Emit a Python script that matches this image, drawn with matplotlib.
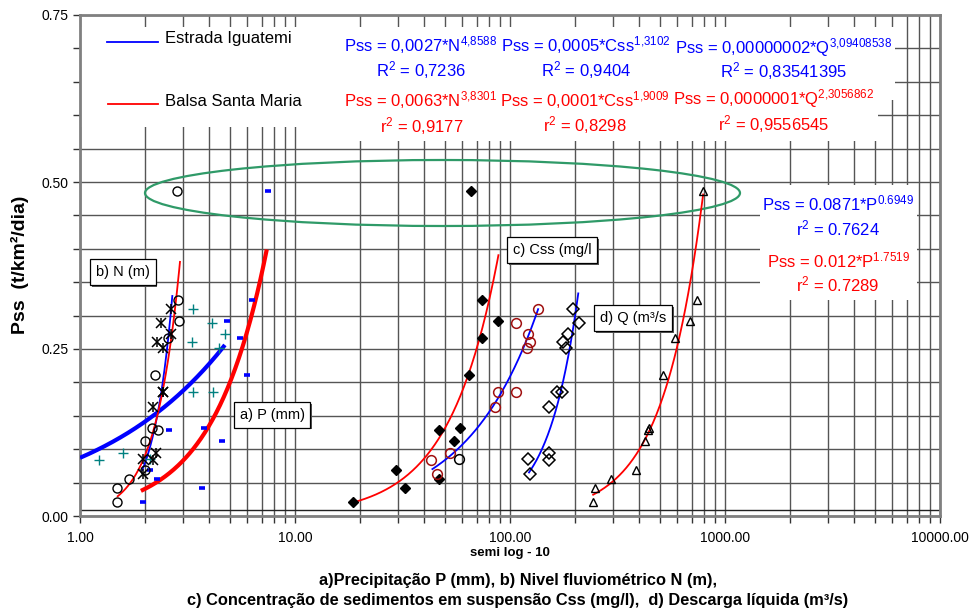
import numpy as np
import matplotlib
matplotlib.use("Agg")
import matplotlib.pyplot as plt
from matplotlib.patches import Ellipse, Rectangle
from matplotlib.lines import Line2D
from matplotlib.ticker import MultipleLocator, LogLocator, FuncFormatter, NullFormatter
import matplotlib.patheffects as pe

plt.rcParams['font.family'] = ['Liberation Sans', 'DejaVu Sans']
plt.rcParams['mathtext.fontset'] = 'custom'
plt.rcParams['mathtext.rm'] = 'Liberation Sans'
plt.rcParams['mathtext.it'] = 'Liberation Sans:italic'
plt.rcParams['mathtext.bf'] = 'Liberation Sans:bold'

# ---------------- data ----------------
# Balsa Santa Maria (red fits)
pss_sm = [0.4865, 0.3234, 0.2919, 0.2665, 0.2111, 0.1313, 0.1287, 0.1123, 0.0689, 0.0549, 0.0415, 0.0205]
n_sm = [2.814, 2.861, 2.884, 2.556, 2.231, 2.160, 2.296, 1.998, 2.004, 1.694, 1.490, 1.490]
p_sm = [7.50, 6.28, 4.83, 5.54, 5.99, 3.77, 2.60, 4.58, 2.11, 2.27, 3.70, 1.96]
css_sm = [66.0, 74.3, 88.4, 74.3, 64.4, 58.3, 46.5, 54.7, 29.4, 46.5, 32.4, 18.6]
q_sm = [792, 741, 688, 587, 513, 441, 437, 426, 386, 295, 249, 242.5]

# Estrada Iguatemi (blue fits)
pss_ig = [0.3094, 0.2885, 0.2725, 0.2600, 0.2520, 0.1861, 0.1861, 0.1627, 0.0948, 0.0858, 0.0838, 0.0629]
n_ig = [2.647, 2.371, 2.638, 2.271, 2.438, 2.438, 2.438, 2.190, 2.254, 1.968, 2.176, 1.956]
p_ig = [3.36, 4.118, 4.717, 3.324, 4.437, 3.36, 4.162, np.nan, 1.589, 2.114, 1.229, np.nan]
css_ig = [135.2, 106.1, 121.5, 124.5, 119.7, 87.8, 106.1, 85.6, 52.4, np.nan, 43.1, 45.9]
q_ig = [195.8, 208.7, 185.5, 175.9, 182.4, 165.0, 174.8, 151.5, 151.5, 121.5, 152.6, 124.5]
css_extra = [58.1]
pss_css_extra = [0.0858]

# power-law trendlines: (coef, exponent, x_start, x_end)
fit_p_ig = (0.0871, 0.6949, 1.0, 4.72)
fit_p_sm = (0.012, 1.7519, 1.92, 7.39)
fit_n_ig = (0.0027, 4.8588, 1.94, 2.69)
fit_n_sm = (0.0063, 3.8301, 1.486, 2.92)
fit_css_ig = (0.0005, 1.3102, 43.2, 135.6)
fit_css_sm = (0.000078, 1.9009, 18.5, 88.5)
fit_q_ig = (2.25e-8, 3.0941, 121.9, 208.0)
fit_q_sm = (1e-7, 2.3057, 241.6, 792.0)

x_ticks = [1, 10, 100, 1000, 10000]

# ---------------- figure ----------------
W, H = 976, 611
fig = plt.figure(figsize=(W / 100, H / 100), dpi=100)
L, R, T, B = 80, 940, 15, 516
ax = fig.add_axes([L / W, 1 - B / H, (R - L) / W, (B - T) / H])

def afrac(px, py):
    return ((px - L) / (R - L), (B - py) / (B - T))

def ffrac(px, py):
    return (px / W, 1 - py / H)

ax.set_xscale('log')
ax.set_xlim(1, 10000)
ax.set_ylim(0, 0.75)
ax.set_xticks(x_ticks)
ax.xaxis.set_major_formatter(FuncFormatter(lambda v, p: f'{v:.2f}'))
ax.xaxis.set_minor_locator(LogLocator(base=10, subs=np.arange(2, 10)))
ax.xaxis.set_minor_formatter(NullFormatter())
ax.yaxis.set_major_locator(MultipleLocator(0.25))
ax.yaxis.set_minor_locator(MultipleLocator(0.05))
ax.yaxis.set_major_formatter(FuncFormatter(lambda v, p: f'{v:.2f}'))
ax.tick_params(which='both', direction='out', length=5, width=1, color='#333333', labelsize=10)
ax.tick_params(axis='x', pad=6)
ax.set_axisbelow(True)
ax.grid(which='both', axis='x', color='#555555', lw=1.0)
ax.grid(which='both', axis='y', color='#555555', lw=1.0)
ax.axhline(0.009, color='#222222', lw=1.0, zorder=0.6)
for s in ax.spines.values():
    s.set_color('#808080')
    s.set_linewidth(2)

# white backgrounds of text boxes (hide grid)
for (x0, y0, x1, y1) in [(80, 27, 300, 127), (300, 27, 895, 100), (300, 100, 878, 141), (760, 185, 917, 300)]:
    a0 = afrac(x0, y1)
    a1 = afrac(x1, y0)
    ax.add_patch(Rectangle(a0, a1[0] - a0[0], a1[1] - a0[1], transform=ax.transAxes,
                           facecolor='white', edgecolor='none', zorder=1))

# ellipse
c = afrac(442.5, 193)
ax.add_patch(Ellipse(c, 595 / (R - L), 66 / (B - T), transform=ax.transAxes,
                     facecolor='none', edgecolor='#2f9a68', lw=1.6, zorder=2.5))

# trendlines
def draw_fit(fit, color, lw):
    a, b, x0, x1 = fit
    xs = np.geomspace(x0, x1, 200)
    ax.plot(xs, a * xs ** b, color=color, lw=lw, zorder=3, solid_capstyle='butt')

draw_fit(fit_p_ig, '#0000ff', 3.0)
draw_fit(fit_p_sm, '#ff0000', 3.0)
draw_fit(fit_n_ig, '#0000ff', 1.3)
draw_fit(fit_n_sm, '#ff0000', 1.3)
draw_fit(fit_css_ig, '#0000ff', 1.3)
draw_fit(fit_css_sm, '#ff0000', 1.3)
draw_fit(fit_q_ig, '#0000ff', 1.3)
draw_fit(fit_q_sm, '#ff0000', 1.3)

# markers
ax.plot(p_sm, pss_sm, ls='none', marker='_', ms=5, mew=2.6, color='#0000ff', zorder=4)
ax.plot(p_ig, pss_ig, ls='none', marker='+', ms=7, mew=1.0, color='#008080', zorder=4)
ax.plot(n_sm, pss_sm, ls='none', marker='o', ms=6.5, mfc='none', mec='black', mew=1.0, zorder=4)
ax.plot(n_ig, pss_ig, ls='none', marker='x', ms=6.5, mew=1.1, color='black', zorder=4)
ax.plot(n_ig, pss_ig, ls='none', marker='|', ms=7.5, mew=1.1, color='black', zorder=4)
ax.plot(css_sm, pss_sm, ls='none', marker='D', ms=5.5, mfc='black', mec='black', zorder=4)
ax.plot(css_ig, pss_ig, ls='none', marker='o', ms=7, mfc='none', mec='#a01010', mew=1.1, zorder=4)
ax.plot(css_extra, pss_css_extra, ls='none', marker='o', ms=7, mfc='none', mec='black', mew=1.1, zorder=4)
ax.plot(q_ig, pss_ig, ls='none', marker='D', ms=6.5, mfc='none', mec='black', mew=1.1, zorder=4)
ax.plot(q_sm, pss_sm, ls='none', marker='^', ms=6, mfc='none', mec='black', mew=1.0, zorder=4)

# legend
fig.add_artist(Line2D([107 / W, 158 / W], [1 - 42 / H] * 2, color='#0000ff', lw=1.3))
fig.add_artist(Line2D([108 / W, 158 / W], [1 - 104 / H] * 2, color='#ff0000', lw=1.3))
fig.text(*ffrac(165, 38), 'Estrada Iguatemi', fontsize=12, va='center', ha='left')
fig.text(*ffrac(165, 102), 'Balsa Santa Maria', fontsize=12, va='center', ha='left')

# equations
BL, RD = '#0000ff', '#ff0000'

def eq(cx, cy, main, sup, color):
    s = main + r'$^{\mathregular{' + sup.replace(',', '{,}') + '}}$'
    fig.text(*ffrac(cx, cy + 6), s, fontsize=12, color=color, ha='center', va='baseline')

def r2(cx, cy, letter, val, color):
    s = letter + r'$^{\mathregular{2}}$' + ' = ' + val
    fig.text(*ffrac(cx, cy + 6), s, fontsize=12, color=color, ha='center', va='baseline')

eq(421, 45, 'Pss = 0,0027*N', '4,8588', BL)
eq(586, 45, 'Pss = 0,0005*Css', '1,3102', BL)
eq(784, 47, 'Pss = 0,00000002*Q', '3,09408538', BL)
eq(421, 100, 'Pss = 0,0063*N', '3,8301', RD)
eq(585, 100, 'Pss = 0,0001*Css', '1,9009', RD)
eq(774, 98, 'Pss = 0,0000001*Q', '2,3056862', RD)
r2(421, 70, 'R', '0,7236', BL)
r2(586, 70, 'R', '0,9404', BL)
r2(784, 71, 'R', '0,83541395', BL)
r2(422, 126, 'r', '0,9177', RD)
r2(585, 125, 'r', '0,8298', RD)
r2(774, 124, 'r', '0,9556545', RD)

eq(838, 204, 'Pss = 0.0871*P', '0.6949', BL)
r2(838, 229, 'r', '0.7624', BL)
eq(838, 261, 'Pss = 0.012*P', '1.7519', RD)
r2(838, 285, 'r', '0.7289', RD)

# label boxes
def lbox(cx, cy, s):
    t = fig.text(*ffrac(cx, cy), s, fontsize=10.5, ha='center', va='center',
                 bbox=dict(boxstyle='square,pad=0.4', facecolor='white', edgecolor='black', lw=0.9))
    t.get_bbox_patch().set_path_effects([pe.SimplePatchShadow(offset=(1.2, -1.2), shadow_rgbFace='#555555', alpha=1.0), pe.Normal()])

lbox(123, 272, 'b) N (m)')
lbox(272, 415, 'a) P (mm)')
lbox(552, 250, 'c) Css (mg/l')
lbox(633, 318, 'd) Q (m³/s')

# axis texts
fig.text(*ffrac(20, 265), 'Pss  (t/km²/dia)', fontsize=14, fontweight='bold', rotation=90, ha='center', va='center')
fig.text(*ffrac(510, 553), 'semi log - 10', fontsize=9.5, fontweight='bold', ha='center', va='center')
fig.text(*ffrac(518, 581), 'a)Precipitação P (mm), b) Nivel fluviométrico N (m),', fontsize=11.8,
         fontweight='bold', ha='center', va='center')
fig.text(*ffrac(518, 601), 'c) Concentração de sedimentos em suspensão Css (mg/l),  d) Descarga líquida (m³/s)',
         fontsize=11.8, fontweight='bold', ha='center', va='center')

fig.savefig('out.png', dpi=100)
